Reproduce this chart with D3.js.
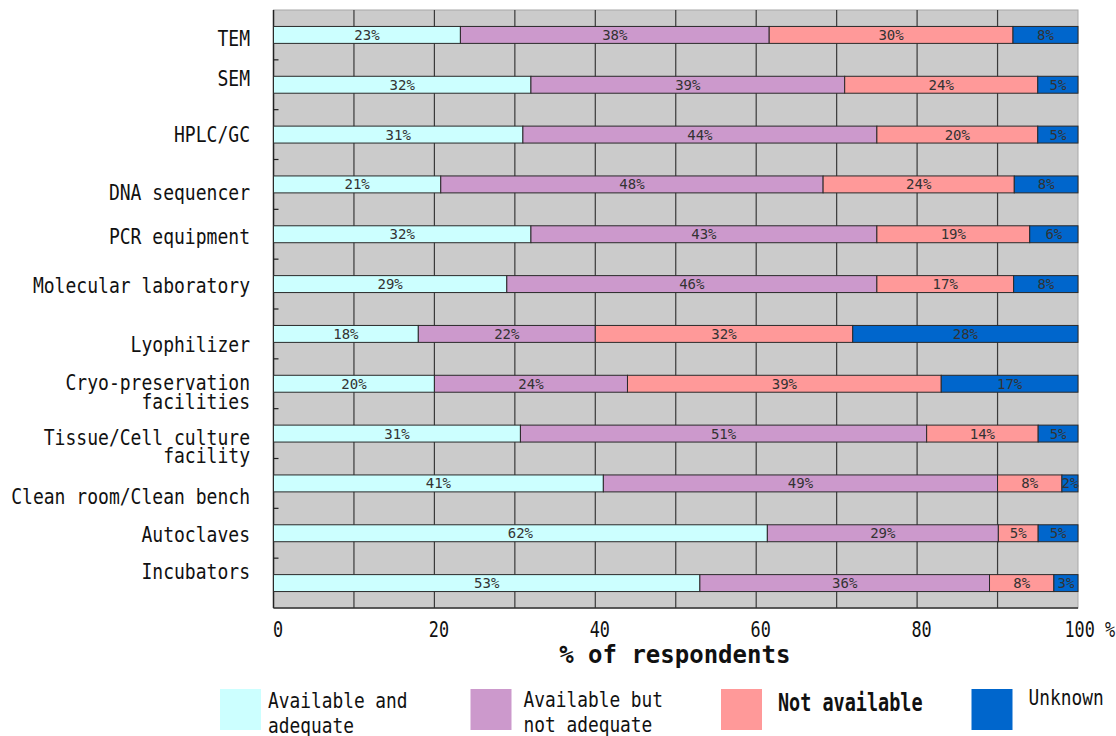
<!DOCTYPE html>
<html>
<head>
<meta charset="utf-8">
<script src="https://cdn.jsdelivr.net/npm/d3@7"></script>
<style>
  html, body { margin: 0; padding: 0; background: #fff; }
  svg { display: block; }
  text { font-family: "DejaVu Sans Mono", "Liberation Mono", monospace; }
</style>
</head>
<body>
<svg id="chart" width="1116" height="736"></svg>
<script>
// ---- Data ----
const categories = [
  "TEM", "SEM", "HPLC/GC", "DNA sequencer", "PCR equipment",
  "Molecular laboratory", "Lyophilizer", "Cryo-preservation\nfacilities",
  "Tissue/Cell culture\nfacility", "Clean room/Clean bench", "Autoclaves", "Incubators"
];
const seriesNames = ["Available and adequate", "Available but not adequate", "Not available", "Unknown"];
const availableAdequate    = [23, 32, 31, 21, 32, 29, 18, 20, 31, 41, 62, 53];
const availableNotAdequate = [38, 39, 44, 48, 43, 46, 22, 24, 51, 49, 29, 36];
const notAvailable         = [30, 24, 20, 24, 19, 17, 32, 39, 14,  8,  5,  8];
const unknown              = [ 8,  5,  5,  8,  6,  8, 28, 17,  5,  2,  5,  3];
const xTickValues = [0, 20, 40, 60, 80, 100];
const xTickLabels = ["0", "20", "40", "60", "80", "100 %"];
const xAxisTitle = "% of respondents";
const legendLabels = [["Available and", "adequate"], ["Available but", "not adequate"], ["Not available"], ["Unknown"]];

// ---- Styles / layout ----
const colors = ["#ccffff", "#cc99cc", "#ff9999", "#0066cc"];
const plot = { left: 273.5, right: 1078, top: 10, bottom: 608 };
// vertical nudge of each category label relative to its bar (as in the reference)
const labelNudge = [4, -6.5, 0, 8, 2.5, 1.5, 11, -1, 3.5, 13.5, 1.5, -11.5];

const svg = d3.select("#chart");

const rows = categories.map((c, i) => ({
  cat: c,
  s0: availableAdequate[i], s1: availableNotAdequate[i], s2: notAvailable[i], s3: unknown[i]
}));
const keys = ["s0", "s1", "s2", "s3"];
const stacked = d3.stack().keys(keys).offset(d3.stackOffsetExpand)(rows);

const x = d3.scaleLinear().domain([0, 1]).range([plot.left, plot.right]);
const xp = d3.scaleLinear().domain([0, 100]).range([plot.left, plot.right]);
const y = d3.scaleBand().domain(categories).range([plot.top, plot.bottom])
  .paddingInner(0.66).paddingOuter(0.33);

function ctext(sel, tx, ty, size, sx) {
  return sel.attr("transform", `translate(${tx},${ty}) scale(${sx},1)`)
    .attr("font-size", size);
}

// plot background
svg.append("rect")
  .attr("x", plot.left).attr("y", plot.top)
  .attr("width", plot.right - plot.left).attr("height", plot.bottom - plot.top)
  .attr("fill", "#cbcbcb").attr("stroke", "#a8a8a8").attr("stroke-width", 1);

// vertical gridlines
svg.append("g").selectAll("line")
  .data(d3.range(10, 100, 10))
  .join("line")
  .attr("x1", d => xp(d)).attr("x2", d => xp(d))
  .attr("y1", plot.top).attr("y2", plot.bottom)
  .attr("stroke", "#3a3a3a").attr("stroke-width", 1.2);

// axis lines (left & bottom)
svg.append("line").attr("x1", plot.left).attr("x2", plot.left)
  .attr("y1", plot.top).attr("y2", plot.bottom).attr("stroke", "#222").attr("stroke-width", 1.5);
svg.append("line").attr("x1", plot.left).attr("x2", plot.right)
  .attr("y1", plot.bottom).attr("y2", plot.bottom).attr("stroke", "#333").attr("stroke-width", 1.5);

// left ticks at band boundaries
const step = y.step();
svg.append("g").selectAll("line")
  .data(d3.range(1, categories.length))
  .join("line")
  .attr("x1", plot.left).attr("x2", plot.left + 5)
  .attr("y1", d => plot.top + d * step).attr("y2", d => plot.top + d * step)
  .attr("stroke", "#222").attr("stroke-width", 1.2);

// bars
const layer = svg.append("g").selectAll("g")
  .data(stacked)
  .join("g")
  .attr("fill", (d, i) => colors[i]);

layer.selectAll("rect")
  .data(d => d)
  .join("rect")
  .attr("x", d => x(d[0]))
  .attr("width", d => x(d[1]) - x(d[0]))
  .attr("y", d => y(d.data.cat))
  .attr("height", y.bandwidth())
  .attr("stroke", "#2a2a2a").attr("stroke-width", 1);

// bar value labels
stacked.forEach((ser, si) => {
  svg.append("g").selectAll("text")
    .data(ser)
    .join("text")
    .attr("x", d => (x(d[0]) + x(d[1])) / 2)
    .attr("y", d => y(d.data.cat) + y.bandwidth() / 2 + 5)
    .attr("text-anchor", "middle")
    .attr("font-size", 14)
    .attr("fill", "#333")
    .text(d => d.data[keys[si]] + "%");
});

// category labels
categories.forEach((c, i) => {
  const lines = c.split("\n");
  const cy = y(c) + y.bandwidth() / 2 + labelNudge[i];
  lines.forEach((ln, li) => {
    const t = svg.append("text").attr("text-anchor", "end").attr("fill", "#111").text(ln);
    ctext(t, 250, cy + 7.5 + li * 18.5, 20.5, 0.88);
  });
});

// x axis tick labels
const xAxis = d3.axisBottom(xp).tickValues(xTickValues)
  .tickFormat((d, i) => xTickLabels[i]).tickSize(0);
const gx = svg.append("g").attr("transform", `translate(0,${plot.bottom})`).call(xAxis);
gx.select(".domain").remove();
gx.selectAll(".tick text").each(function(d, i) {
  const s = d3.select(this);
  const last = i === xTickValues.length - 1;
  s.attr("y", null).attr("dy", null).attr("x", null)
    .attr("fill", "#111").attr("font-family", '"DejaVu Sans Mono", monospace')
    .attr("text-anchor", last ? "start" : "middle");
  ctext(s, last ? -14 : 4, 29, 20.5, 0.82);
});

// x axis title
svg.append("text")
  .attr("x", (plot.left + plot.right) / 2 - 1).attr("y", 663)
  .attr("text-anchor", "middle")
  .attr("font-size", 24).attr("font-weight", "bold").attr("fill", "#111")
  .text(xAxisTitle);

// legend
const legendTextDx = [48, 53, 57, 57];
const legendBaseline = [708, 707, 711, 705];
legendLabels.forEach((lines, i) => {
  const sx0 = 220 + i * 250.5;
  svg.append("rect")
    .attr("x", sx0).attr("y", 689).attr("width", 41).attr("height", 41)
    .attr("fill", colors[i]);
  lines.forEach((ln, li) => {
    const t = svg.append("text").attr("fill", "#111").text(ln);
    if (i === 2) {
      t.attr("font-weight", "bold");
      ctext(t, sx0 + legendTextDx[i], legendBaseline[i], 24, 0.77);
    } else {
      ctext(t, sx0 + legendTextDx[i], legendBaseline[i] + li * 25, 21, 0.85);
    }
  });
});
</script>
</body>
</html>
